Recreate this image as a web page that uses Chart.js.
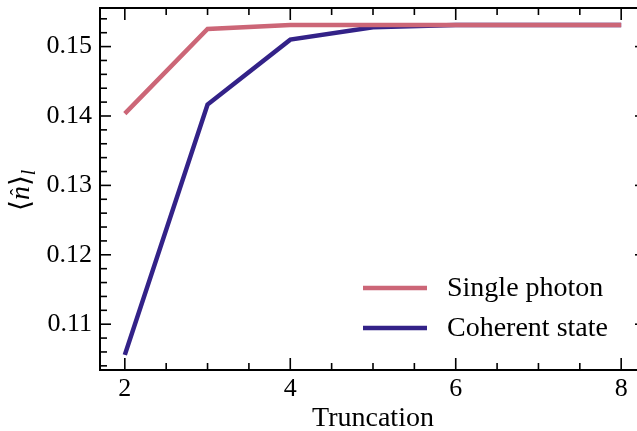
<!DOCTYPE html>
<html>
<head>
<meta charset="utf-8">
<script src="https://cdn.jsdelivr.net/npm/chart.js@4/dist/chart.umd.min.js"></script>
<style>
html,body{margin:0;padding:0;background:#fff;overflow:hidden;}
#wrap{width:660px;height:431px;position:relative;}
</style>
</head>
<body>
<div id="wrap"><canvas id="c" width="660" height="431"></canvas></div>
<script>
const truncation = [2, 3, 4, 5, 6, 7, 8];
const singlePhoton = [0.14035, 0.15255, 0.1531, 0.1531, 0.1531, 0.1531, 0.1531];
const coherentState = [0.10558, 0.14165, 0.15100, 0.15280, 0.1531, 0.1531, 0.1531];
const xTicks = [2, 4, 6, 8];
const yTicks = [0.11, 0.12, 0.13, 0.14, 0.15];
const seriesLabels = ['Single photon', 'Coherent state'];
const seriesColors = ['#CC6677', '#332288'];

const FONT = "'Liberation Serif', 'DejaVu Serif', serif";

const tickPlugin = {
  id: 'inTicks',
  afterDatasetsDraw(chart) {
    const ctx = chart.ctx, a = chart.chartArea;
    const xs = chart.scales.x, ys = chart.scales.y;
    ctx.save();
    ctx.strokeStyle = '#000';
    ctx.lineWidth = 1.6;
    const line = (x1, y1, x2, y2) => { ctx.beginPath(); ctx.moveTo(x1, y1); ctx.lineTo(x2, y2); ctx.stroke(); };
    for (let v = 1.5; v <= 8.5; v += 0.5) {
      if (v < xs.min || v > xs.max) continue;
      const major = Math.abs(v / 2 - Math.round(v / 2)) < 1e-6;
      const L = major ? 12 : 7;
      const px = xs.getPixelForValue(v);
      line(px, a.bottom, px, a.bottom - L);
      line(px, a.top, px, a.top + L);
    }
    for (let i = 0; i <= 30; i++) {
      const v = 0.100 + i * 0.002;
      if (v < ys.min || v > ys.max) continue;
      const major = (i % 5) === 0;
      const L = major ? 11 : 7;
      const py = ys.getPixelForValue(v);
      line(a.left, py, a.left + L, py);
      line(a.right, py, a.right - L, py);
    }
    ctx.lineWidth = 2;
    ctx.strokeRect(a.left, a.top, a.right - a.left, a.bottom - a.top);
    ctx.restore();
  }
};

const labelPlugin = {
  id: 'labels',
  afterDraw(chart) {
    const ctx = chart.ctx;
    ctx.save();
    ctx.translate(20, 186);
    ctx.rotate(-Math.PI / 2);
    ctx.fillStyle = '#000';
    ctx.textBaseline = 'alphabetic';
    ctx.font = '28px ' + FONT;
    let x = -25;
    ctx.fillText('\u27E8', x, 9); x += ctx.measureText('\u27E8').width;
    ctx.font = 'italic 28px ' + FONT;
    const nw = ctx.measureText('n').width;
    ctx.fillText('n', x, 9);
    ctx.font = '20px ' + FONT;
    ctx.textAlign = 'center';
    ctx.fillText('\u02C6', x + nw / 2 + 1, 5);
    ctx.textAlign = 'left';
    x += nw;
    ctx.font = '28px ' + FONT;
    ctx.fillText('\u27E9', x, 9); x += ctx.measureText('\u27E9').width;
    ctx.font = 'italic 20px ' + FONT;
    ctx.fillText('l', x, 15);
    ctx.restore();

    ctx.save();
    chart.data.datasets.forEach((ds, i) => {
      const y = 288 + i * 40;
      ctx.strokeStyle = ds.borderColor;
      ctx.lineWidth = 4.5;
      ctx.beginPath(); ctx.moveTo(363, y); ctx.lineTo(427, y); ctx.stroke();
      ctx.fillStyle = '#000';
      ctx.font = '28px ' + FONT;
      ctx.textBaseline = 'middle';
      ctx.fillText(ds.label, 447, y + 1);
    });
    ctx.restore();
  }
};

new Chart(document.getElementById('c'), {
  type: 'line',
  data: {
    labels: truncation,
    datasets: [
      { label: seriesLabels[0], data: truncation.map((t, i) => ({ x: t, y: singlePhoton[i] })), borderColor: seriesColors[0], borderWidth: 4.5, pointRadius: 0, tension: 0, fill: false },
      { label: seriesLabels[1], data: truncation.map((t, i) => ({ x: t, y: coherentState[i] })), borderColor: seriesColors[1], borderWidth: 4.5, pointRadius: 0, tension: 0, fill: false }
    ]
  },
  options: {
    responsive: false,
    animation: false,
    devicePixelRatio: 1,
    layout: { padding: { top: 8, right: 14, left: 0, bottom: 0 } },
    plugins: { legend: { display: false }, tooltip: { enabled: false } },
    scales: {
      x: {
        type: 'linear', min: 1.7, max: 8.3,
        afterBuildTicks: s => { s.ticks = xTicks.map(v => ({ value: v })); },
        afterFit: s => { s.height = 61; s.paddingLeft = 0; s.paddingRight = 0; },
        grid: { display: false, drawTicks: false },
        border: { display: false },
        ticks: { font: { family: FONT, size: 26 }, color: '#000', padding: 4, maxRotation: 0, callback: v => String(v) },
        title: { display: true, text: 'Truncation', font: { family: FONT, size: 28 }, color: '#000', padding: { top: 0, bottom: -4 } }
      },
      y: {
        type: 'linear', min: 0.1034, max: 0.15556,
        afterBuildTicks: s => { s.ticks = yTicks.map(v => ({ value: v })); },
        afterFit: s => { s.width = 100; s.paddingTop = 0; s.paddingBottom = 0; },
        grid: { display: false, drawTicks: false },
        border: { display: false },
        ticks: { font: { family: FONT, size: 26 }, color: '#000', padding: 8, callback: v => Number(v).toFixed(2) }
      }
    }
  },
  plugins: [tickPlugin, labelPlugin]
});
</script>
</body>
</html>
